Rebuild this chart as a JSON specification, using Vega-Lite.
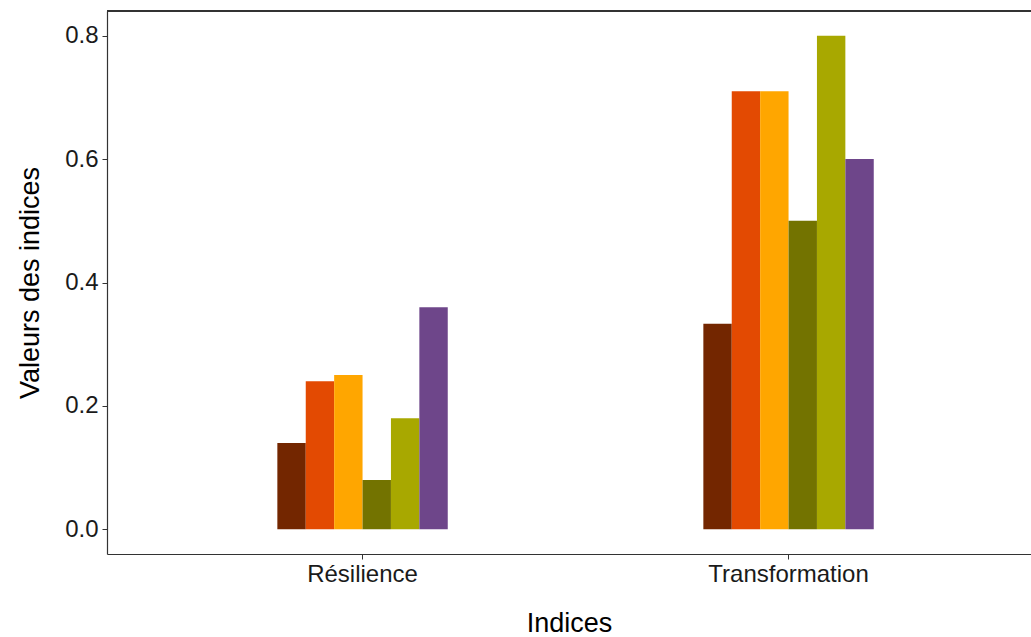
{
  "$schema": "https://vega.github.io/schema/vega-lite/v6.json",
  "autosize": "none",
  "padding": {"left": 107, "top": 11, "right": 0, "bottom": 83},
  "width": 924,
  "height": 543,
  "background": "white",
  "config": {
    "view": {"stroke": null},
    "font": "Liberation Sans",
    "axis": {"grid": false, "domainColor": "#333333", "tickColor": "#333333", "domainWidth": 1.2, "tickSize": 5, "labelColor": "#1a1a1a", "titleColor": "#000000", "labelFontSize": 24, "titleFontSize": 27, "titleFontWeight": "normal", "labelFont": "Liberation Sans", "titleFont": "Liberation Sans"}
  },
  "data": {"values": [
    {"indice": "Résilience", "serie": "s1", "valeur": 0.14},
    {"indice": "Résilience", "serie": "s2", "valeur": 0.24},
    {"indice": "Résilience", "serie": "s3", "valeur": 0.25},
    {"indice": "Résilience", "serie": "s4", "valeur": 0.08},
    {"indice": "Résilience", "serie": "s5", "valeur": 0.18},
    {"indice": "Résilience", "serie": "s6", "valeur": 0.36},
    {"indice": "Transformation", "serie": "s1", "valeur": 0.333},
    {"indice": "Transformation", "serie": "s2", "valeur": 0.71},
    {"indice": "Transformation", "serie": "s3", "valeur": 0.71},
    {"indice": "Transformation", "serie": "s4", "valeur": 0.5},
    {"indice": "Transformation", "serie": "s5", "valeur": 0.8},
    {"indice": "Transformation", "serie": "s6", "valeur": 0.6}
  ]},
  "layer": [
    {
      "mark": {"type": "bar"},
      "encoding": {
        "x": {"field": "indice", "type": "nominal", "sort": null,
          "scale": {"paddingInner": 0.6, "paddingOuter": 0.3845, "align": 0.52},
          "axis": {"title": "Indices", "labelAngle": 0, "labelPadding": 3, "titlePadding": 24}},
        "xOffset": {"field": "serie", "type": "nominal", "scale": {"paddingInner": 0, "paddingOuter": 0}},
        "y": {"field": "valeur", "type": "quantitative",
          "scale": {"domain": [-0.04, 0.84], "nice": false, "zero": false},
          "axis": {"title": "Valeurs des indices", "values": [0, 0.2, 0.4, 0.6, 0.8], "format": ".1f", "labelPadding": 4, "titlePadding": 20}},
        "y2": {"datum": 0},
        "color": {"field": "serie", "type": "nominal", "legend": null,
          "scale": {"domain": ["s1", "s2", "s3", "s4", "s5", "s6"], "range": ["#732600", "#E34A02", "#FFA600", "#737300", "#A8A800", "#6E468A"]}}
      }
    },
    {
      "mark": {"type": "rule", "color": "#333333", "strokeWidth": 1.2},
      "encoding": {"y": {"datum": 0.84}}
    }
  ]
}
